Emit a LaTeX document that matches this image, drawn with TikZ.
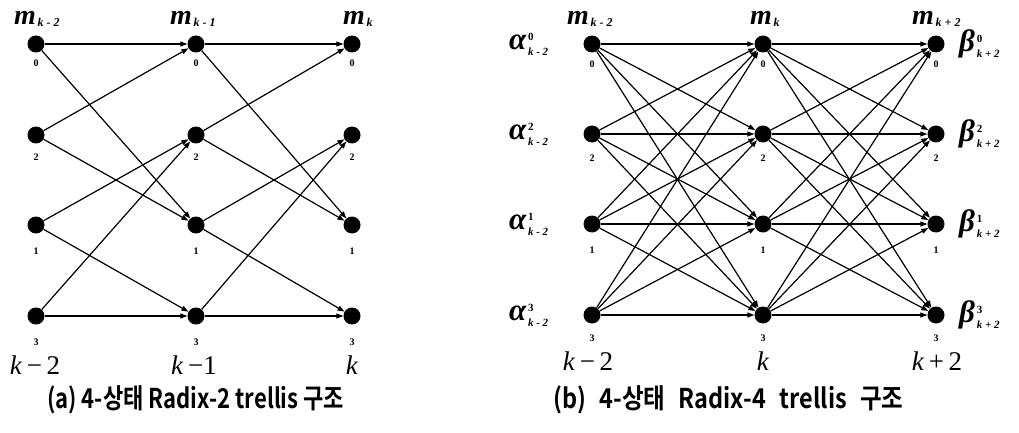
\documentclass[tikz,border=0pt]{standalone}
\usepackage{fontspec}
\setmainfont{Liberation Serif}
\newfontfamily\krfont{Noto Sans CJK KR Bold}
\usetikzlibrary{arrows.meta}
\newcommand{\mlab}[1]{{\fontsize{28}{28}\selectfont\bfseries\itshape m}\,\raisebox{-2pt}{\fontsize{12}{12}\selectfont\bfseries\itshape #1}}
\newcommand{\gl}[3]{{\fontsize{31}{31}\selectfont\bfseries\itshape #1}\,\rlap{\raisebox{9pt}{\fontsize{11}{11}\selectfont\bfseries #2}}\raisebox{-6pt}{\fontsize{11}{11}\selectfont\bfseries\itshape #3}}
\newcommand{\gp}{\hspace{12pt}}
\tikzset{
  dot/.style={circle,fill=black,inner sep=0pt,minimum size=17pt},
  st/.style={font=\fontsize{10}{10}\selectfont\bfseries,inner sep=0pt},
  tm/.style={font=\fontsize{27}{27}\selectfont,inner sep=0pt},
  ml/.style={inner sep=0pt,anchor=base west},
  edge/.style={line width=1.2pt,-{Triangle[length=7pt,width=5pt]}},
  captext/.style={font=\krfont\fontsize{21}{21}\selectfont,inner sep=0pt,anchor=base west}
}
\begin{document}
\begin{tikzpicture}[x=1pt,y=-1pt]
\useasboundingbox (0,0) rectangle (1019,433);
% left diagram
\foreach \c/\x in {a/36,b/196,c/352}{
  \foreach \r/\y/\s/\ly in {0/44/0/63,2/135/2/157,1/225/1/251,3/316/3/342}{
    \node[dot] (L\c\r) at (\x,\y) {};
    \node[st] (Ls\c\r) at (\x,\ly) {\s};
  }
}
\foreach \u/\v in {a/b,b/c}{
  \draw[edge] (L\u0) -- (L\v0);
  \draw[edge] (L\u0) -- (L\v1);
  \draw[edge] (L\u2) -- (L\v0);
  \draw[edge] (L\u2) -- (L\v1);
  \draw[edge] (L\u1) -- (L\v2);
  \draw[edge] (L\u1) -- (L\v3);
  \draw[edge] (L\u3) -- (L\v2);
  \draw[edge] (L\u3) -- (L\v3);
}
\node[ml] (Lma) at (14,25) {\mlab{k - 2}};
\node[ml] (Lmb) at (170,25) {\mlab{k - 1}};
\node[ml] (Lmc) at (343,25) {\mlab{k}};
\node[tm] (Lta) at (35,365) {\textit{k}\,−\,2};
\node[tm] (Ltb) at (194,365) {\textit{k}\,−1};
\node[tm] (Ltc) at (352,365) {\textit{k}};
% right diagram
\foreach \c/\x in {a/592,b/763,c/936}{
  \foreach \r/\y/\s/\ly in {0/44/0/64,2/134/2/158,1/224/1/250,3/315/3/338}{
    \node[dot] (R\c\r) at (\x,\y) {};
    \node[st] (Rs\c\r) at (\x,\ly) {\s};
  }
}
\foreach \u/\v in {a/b,b/c}{
  \foreach \i in {0,2,1,3}{
    \foreach \j in {0,2,1,3}{
      \draw[edge] (R\u\i) -- (R\v\j);
    }
  }
}
\node[ml] (Rma) at (567,25) {\mlab{k - 2}};
\node[ml] (Rmb) at (750,25) {\mlab{k}};
\node[ml] (Rmc) at (912,25) {\mlab{k + 2}};
\node[tm] (Rta) at (588,361) {\textit{k}\,−\,2};
\node[tm] (Rtb) at (763,361) {\textit{k}};
\node[tm] (Rtc) at (937,361) {\textit{k}\,+\,2};
\foreach \r/\y/\s in {0/44/0,2/134/2,1/224/1,3/315/3}{
  \node[inner sep=0pt,anchor=west] (Al\r) at (509,\y) {\gl{α}{\s}{k - 2}};
  \node[inner sep=0pt,anchor=west] (Be\r) at (959,\y) {\gl{β}{\s}{k + 2}};
}
% captions
\node[captext] (capa) at (47,408) {\scalebox{1.05}[1.3]{(a) 4-상태 Radix-2 trellis 구조}};
\node[captext] (capb) at (553,408) {\scalebox{1.12}[1.3]{(b)\gp 4-상태\gp Radix-4\gp trellis\gp 구조}};
\end{tikzpicture}
\end{document}
